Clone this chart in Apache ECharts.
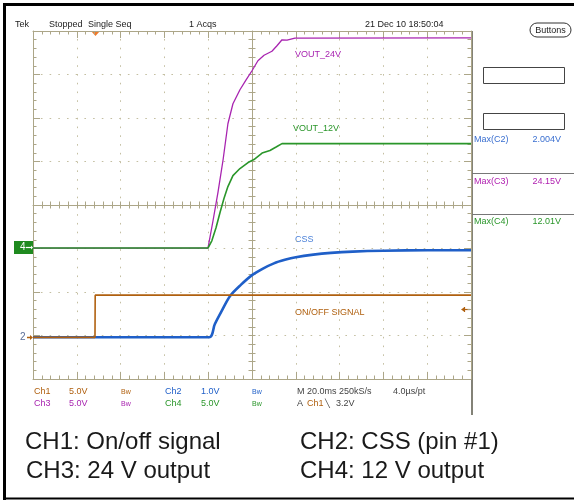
<!DOCTYPE html>
<html><head><meta charset="utf-8">
<script src="https://cdn.jsdelivr.net/npm/echarts@6/dist/echarts.min.js"></script>
<style>html,body{margin:0;padding:0;background:#fff}#c{width:574px;height:500px}</style>
</head><body><div id="c"></div>
<script>
// Time axis: ms from the left edge of the screen (20 ms/div, 10 div)
const ch1Time  = [0, 28.3, 28.4, 200];
const ch1Volts = [0, 0, 4.85, 4.85];
const ch2Time  = [0, 80.4, 83, 86, 90, 95, 100, 105, 110, 115, 120, 128, 136, 146, 160, 180, 200];
const ch2Volts = [0, 0, 0.30, 0.59, 0.95, 1.21, 1.43, 1.58, 1.70, 1.78, 1.84, 1.90, 1.94, 1.97, 1.99, 2.00, 2.00];
const ch3Time  = [0, 79.9, 82.2, 84.5, 86.8, 89.0, 91.3, 94.5, 97.3, 100.0, 102.7, 105.5, 109.1, 111.4, 113.7, 116.0, 119.6, 200];
const ch3Volts = [0, 0, 3.14, 6.47, 10.15, 14.29, 16.59, 18.2, 19.34, 20.38, 21.53, 22.16, 22.62, 23.25, 23.94, 23.89, 24.12, 24.15];
const ch4Time  = [0, 79.9, 81.7, 83.6, 85.4, 87.2, 89.0, 91.3, 94.5, 98.2, 100.9, 104.6, 108.2, 111.0, 113.7, 200];
const ch4Volts = [0, 0, 0.86, 2.36, 4.08, 5.69, 7.07, 8.33, 9.14, 9.83, 10.17, 10.92, 11.21, 11.61, 12.01, 12.01];

const traceLabels = ['ON/OFF SIGNAL', 'CSS', 'VOUT_24V', 'VOUT_12V'];
const headerTexts = ['Tek', 'Stopped', 'Single Seq', '1 Acqs', '21 Dec 10 18:50:04'];
const measNames = ['Max(C2)', 'Max(C3)', 'Max(C4)'];
const measValues = ['2.004V', '24.15V', '12.01V'];
const captions = ['CH1: On/off signal', 'CH2: CSS (pin #1)', 'CH3: 24 V output', 'CH4: 12 V output'];

const C1 = '#b0600f', C2 = '#1f5fc8', C3 = '#a824b0', C4 = '#2a962a';
const gridColor = '#aca688', dotColor = '#c4bfa2';
const FONT = '"Liberation Sans", Arial, sans-serif';

const zipPts = (t, v) => t.map((x, i) => [x, v[i]]);

function tickAxis(extra) {
  return Object.assign({
    type: 'value', axisLabel: {show: false}, splitLine: {show: false},
    axisLine: {show: true, onZero: false, lineStyle: {color: gridColor, width: 1}},
    axisTick: {show: true, inside: true, length: 7, lineStyle: {color: gridColor}},
    minorTick: {show: true, splitNumber: 5, length: 3.5, lineStyle: {color: gridColor}}
  }, extra);
}
const X = (o) => tickAxis(Object.assign({min: 0, max: 200, interval: 20}, o));
const Y = (o) => tickAxis(Object.assign({min: 0, max: 8, interval: 1}, o));
const hiddenY = (min, max) => ({type: 'value', show: false, min, max,
  axisLine: {onZero: false}, splitLine: {show: false}});

function T(text, x, y, fill, size, align, extra) {
  return Object.assign({type: 'text', x, y, silent: true,
    style: {text, fill, font: size + 'px ' + FONT, textAlign: align || 'left', textVerticalAlign: 'middle'}}, extra || {});
}
function L(x1, y1, x2, y2, stroke, w) {
  return {type: 'line', silent: true, shape: {x1, y1, x2, y2}, style: {stroke, lineWidth: w || 1}};
}

const chart = echarts.init(document.getElementById('c'), null, {renderer: 'canvas'});
const graphics = [
  // outer black frame
  L(4.5, 4, 4.5, 500, '#000', 3), L(3, 4.5, 574, 4.5, '#000', 3), L(3, 498.5, 574, 498.5, '#000', 2),
  // header
  T(headerTexts[0], 15, 25, '#222', 9), T(headerTexts[1], 49, 25, '#222', 9), T(headerTexts[2], 88, 25, '#222', 9),
  T(headerTexts[3], 189, 25, '#222', 9), T(headerTexts[4], 365, 25, '#222', 9),
  {type: 'rect', silent: true, shape: {x: 530, y: 23, width: 41, height: 14, r: 7}, style: {fill: '#fff', stroke: '#333', lineWidth: 1}},
  T('Buttons', 550.5, 30.5, '#222', 9, 'center'),
  // trigger position marker
  {type: 'polygon', silent: true, shape: {points: [[91, 31], [100, 31], [95.5, 36]]}, style: {fill: '#f07a2a'}},
  // right panel
  L(472, 31, 472, 415, '#5a584a', 1.5),
  {type: 'rect', silent: true, shape: {x: 483.5, y: 67.5, width: 81, height: 16}, style: {fill: '#fff', stroke: '#444', lineWidth: 1}},
  {type: 'rect', silent: true, shape: {x: 483.5, y: 113.5, width: 81, height: 16}, style: {fill: '#fff', stroke: '#444', lineWidth: 1}},
  T(measNames[0], 474, 140, '#3a6fd0', 9), T(measValues[0], 561, 140, '#3a6fd0', 9, 'right'),
  L(472, 173.5, 574, 173.5, '#777', 1),
  T(measNames[1], 474, 182, '#b020b0', 9), T(measValues[1], 561, 182, '#b020b0', 9, 'right'),
  L(472, 214.5, 574, 214.5, '#777', 1),
  T(measNames[2], 474, 222, '#2a962a', 9), T(measValues[2], 561, 222, '#2a962a', 9, 'right'),
  // ground markers
  {type: 'rect', silent: true, shape: {x: 14, y: 241, width: 19, height: 13}, style: {fill: '#1f8a1f'}},
  T('4', 20, 247.5, '#fff', 10), L(26, 247.5, 31, 247.5, '#fff', 1.2),
  {type: 'polygon', silent: true, shape: {points: [[31, 245.5], [33, 247.5], [31, 249.5]]}, style: {fill: '#fff'}},
  T('2', 20, 337.5, '#5a6e98', 10),
  L(27, 337.5, 31, 337.5, C1, 1.5),
  {type: 'polygon', silent: true, shape: {points: [[30, 335], [33, 337.5], [30, 340]]}, style: {fill: C1}},
  // trigger level marker
  L(463, 309.5, 470, 309.5, C1, 1.2), L(464.5, 307, 464.5, 312, C1, 1.2),
  {type: 'polygon', silent: true, shape: {points: [[461, 309.5], [464, 307.5], [464, 311.5]]}, style: {fill: C1}},
  // trace labels
  T(traceLabels[2], 295, 55, C3, 9), T(traceLabels[3], 293, 128.5, C4, 9),
  T(traceLabels[1], 295, 240, '#4a80d8', 9), T(traceLabels[0], 295, 313, C1, 9),
  // channel settings rows
  T('Ch1', 34, 392, C1, 9), T('5.0V', 69, 392, C1, 9), T('Bw', 121, 392, C1, 7),
  T('Ch2', 165, 392, C2, 9), T('1.0V', 201, 392, C2, 9), T('Bw', 252, 392, C2, 7),
  T('M 20.0ms 250kS/s', 297, 392, '#444', 9), T('4.0\u00b5s/pt', 393, 392, '#444', 9),
  T('Ch3', 34, 404, C3, 9), T('5.0V', 69, 404, C3, 9), T('Bw', 121, 404, C3, 7),
  T('Ch4', 165, 404, C4, 9), T('5.0V', 201, 404, C4, 9), T('Bw', 252, 404, C4, 7),
  T('A', 297, 404, '#444', 9), T('Ch1', 307, 404, C1, 9), T('\u2572', 325, 404, '#444', 8), T('3.2V', 336, 404, '#444', 9),
  // captions
  T(captions[0], 25, 442, '#1a1a1a', 24), T(captions[1], 300, 442, '#1a1a1a', 24),
  T(captions[2], 26, 471, '#1a1a1a', 24), T(captions[3], 300, 471, '#1a1a1a', 24)
];

chart.setOption({
  animation: false,
  backgroundColor: '#fff',
  grid: {left: 33, top: 31, width: 438, height: 348, show: false},
  xAxis: [
    X({position: 'bottom', splitLine: {show: true, lineStyle: {color: dotColor, type: [1.6, 7.16], dashOffset: 0.8, width: 1}}}),
    X({position: 'top'}),
    X({position: 'bottom', offset: -174, axisTick: {show: true, inside: true, length: 3.5, lineStyle: {color: gridColor}}, minorTick: {show: true, splitNumber: 5, length: 3.5, lineStyle: {color: gridColor}}}),
    X({position: 'bottom', offset: -174, axisLine: {show: false, onZero: false}, axisTick: {show: true, inside: false, length: 3.5, lineStyle: {color: gridColor}}, minorTick: {show: true, splitNumber: 5, length: 3.5, lineStyle: {color: gridColor}}})
  ],
  yAxis: [
    Y({position: 'left', splitLine: {show: true, lineStyle: {color: dotColor, type: [1.6, 7.1], dashOffset: 0.8, width: 1}}}),
    Y({position: 'right'}),
    Y({position: 'left', offset: -219, axisTick: {show: true, inside: true, length: 3.5, lineStyle: {color: gridColor}}, minorTick: {show: true, splitNumber: 5, length: 3.5, lineStyle: {color: gridColor}}}),
    Y({position: 'left', offset: -219, axisLine: {show: false, onZero: false}, axisTick: {show: true, inside: false, length: 3.5, lineStyle: {color: gridColor}}, minorTick: {show: true, splitNumber: 5, length: 3.5, lineStyle: {color: gridColor}}}),
    hiddenY(-4.79, 35.21),   // Ch1 5 V/div
    hiddenY(-0.959, 7.041),  // Ch2 1 V/div
    hiddenY(-15.05, 24.95),  // Ch3 5 V/div
    hiddenY(-15.05, 24.95)   // Ch4 5 V/div
  ],
  series: [
    {type: 'line', name: 'CH2', xAxisIndex: 0, yAxisIndex: 5, data: zipPts(ch2Time, ch2Volts), showSymbol: false, symbol: 'none', smooth: 0.3, lineStyle: {color: C2, width: 2.6}, z: 3},
    {type: 'line', name: 'CH1', xAxisIndex: 0, yAxisIndex: 4, data: zipPts(ch1Time, ch1Volts), showSymbol: false, symbol: 'none', lineStyle: {color: C1, width: 1.6}, z: 4},
    {type: 'line', name: 'CH3', xAxisIndex: 0, yAxisIndex: 6, data: zipPts(ch3Time, ch3Volts), showSymbol: false, symbol: 'none', lineStyle: {color: C3, width: 1.3}, z: 5},
    {type: 'line', name: 'CH4', xAxisIndex: 0, yAxisIndex: 7, data: zipPts(ch4Time, ch4Volts), showSymbol: false, symbol: 'none', lineStyle: {color: C4, width: 1.6}, z: 6}
  ],
  graphic: {elements: graphics}
});
</script></body></html>
